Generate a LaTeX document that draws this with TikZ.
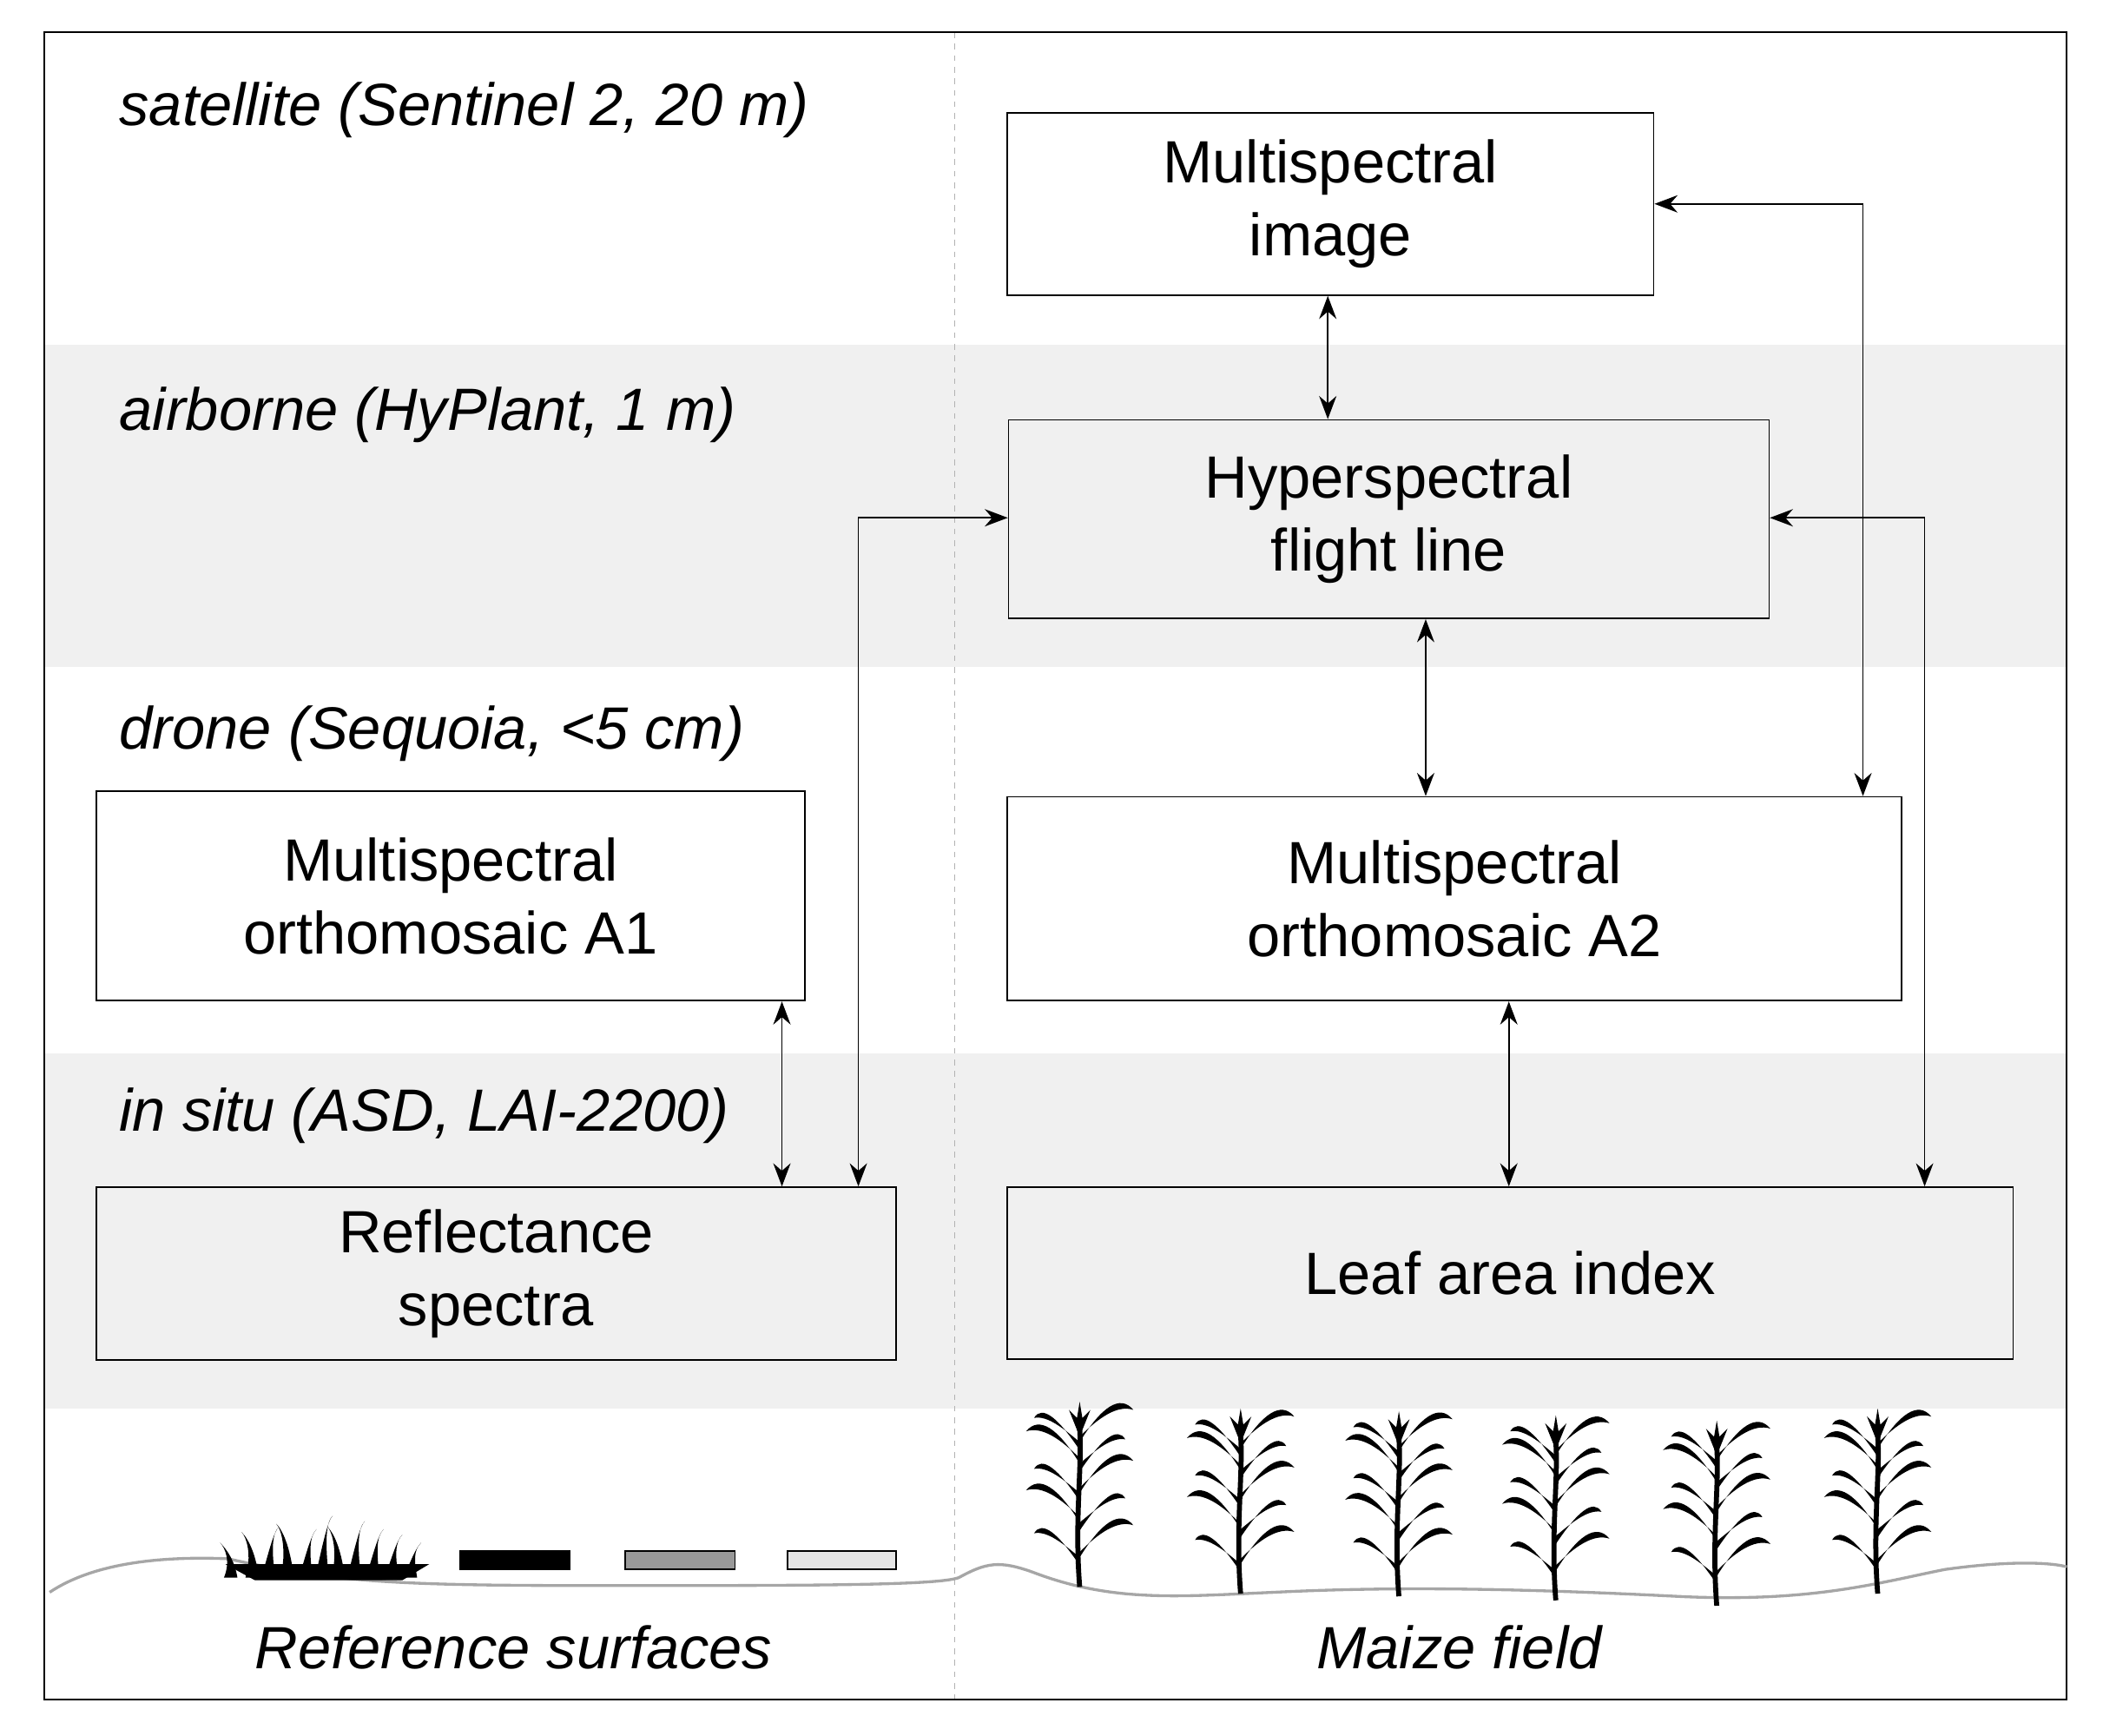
\documentclass[tikz,border=0pt]{standalone}
\usepackage{fontspec}
\setmainfont{Liberation Sans}
\usetikzlibrary{positioning}
\usetikzlibrary{arrows.meta}

% one maize plant, base at the origin of the scope
\newcommand{\maizeplant}[1]{%
  \begin{scope}[shift={(#1)}]
    \draw[line width=2.6pt] (0,0) .. controls (-4,-50) and (2,-90) .. (0,-118);
    \foreach \h/\s in {-22/1,-48/-1,-70/1,-92/-1,-108/1}{
      \fill (0,\h) .. controls (\s*16,\h-26) and (\s*30,\h-36) .. (\s*40,\h-24)
        .. controls (\s*28,\h-28) and (\s*14,\h-18) .. (0,\h-4) -- cycle;
      \fill (0,\h+6) .. controls (-\s*16,\h-18) and (-\s*28,\h-28) .. (-\s*34,\h-18)
        .. controls (-\s*24,\h-20) and (-\s*12,\h-10) .. (0,\h) -- cycle;
    }
    \fill (0,-112) -- (-8,-132) -- (-2,-126) -- (0,-138) -- (2,-126) -- (8,-132) -- cycle;
  \end{scope}}

\begin{document}
\begin{tikzpicture}[x=0.0245cm,y=-0.0245cm,
  box/.style={draw=black,thick,align=center,inner sep=0pt,font=\fontsize{31}{38}\selectfont},
  level/.style={anchor=west,font=\fontsize{31}{38}\selectfont\itshape},
  link/.style={{Stealth[length=12pt,width=9pt]}-{Stealth[length=12pt,width=9pt]},thick}]
  \useasboundingbox (0,0) rectangle (1568,1294);
  % bands
  \fill[black!6] (33,257) rectangle (1541,497);
  \fill[black!6] (33,785) rectangle (1541,1050);
  \draw[black!30,dashed] (712,24) -- (712,1267);
  \draw[thick] (33,24) rectangle (1541,1267);

  % levels
  \node[level] (lsat) at (84,82) {satellite (Sentinel 2, 20 m)};
  \node[level] (lair) at (84,309) {airborne (HyPlant, 1 m)};
  \node[level] (ldrone) at (84,547) {drone (Sequoia, <5 cm)};
  \node[level] (lsitu) at (84,832) {in situ (ASD, LAI-2200)};

  % products
  \node[box,minimum width=482*0.0245cm,minimum height=136*0.0245cm] (image) at (992,152) {Multispectral\\image};
  \node[box,minimum width=567*0.0245cm,minimum height=148*0.0245cm] (hyper) at (1035.5,387) {Hyperspectral\\flight line};
  \node[box,minimum width=528*0.0245cm,minimum height=156*0.0245cm] (orthoA) at (336,668) {Multispectral\\orthomosaic A1};
  \node[box,minimum width=667*0.0245cm,minimum height=152*0.0245cm] (orthoB) at (1084.5,670) {Multispectral\\orthomosaic A2};
  \node[box,minimum width=596*0.0245cm,minimum height=129*0.0245cm] (refl) at (370,949.5) {Reflectance\\spectra};
  \node[box,minimum width=750*0.0245cm,minimum height=128*0.0245cm] (lai) at (1126,949) {Leaf area index};

  \coordinate (c1) at (1389,152);
  \coordinate (c2) at (640,386);
  \coordinate (c3) at (1435,386);
  \draw[link] (image.south -| 990,0) -- (hyper.north -| 990,0);
  \draw[link] (image.east |- c1) -| (orthoB.north -| c1);
  \draw[link] (hyper.west |- c2) -| (refl.north -| c2);
  \draw[link] (hyper.east |- c3) -| (lai.north -| c3);
  \draw[link] (hyper.south -| 1063,0) -- (orthoB.north -| 1063,0);
  \draw[link] (orthoA.south -| 583,0) -- (refl.north -| 583,0);
  \draw[link] (orthoB.south -| 1125,0) -- (lai.north -| 1125,0);

  % ground
  \draw[black!35,line width=1.5pt] (37,1187) .. controls (70,1165) and (120,1160) .. (170,1162)
    .. controls (250,1180) and (300,1182) .. (450,1182) .. controls (600,1182) and (700,1182) .. (715,1176)
    .. controls (735,1165) and (745,1163) .. (770,1172) .. controls (830,1195) and (880,1190) .. (950,1187)
    .. controls (1050,1182) and (1150,1185) .. (1250,1190) .. controls (1350,1195) and (1400,1180) .. (1450,1170)
    .. controls (1500,1163) and (1530,1165) .. (1541,1168);
  % grass tuft
  \foreach \gx/\gh/\gs in {172/12/-1,188/20/-1,200/24/1,214/26/-1,228/22/1,240/32/1,252/24/-1,264/28/1,278/22/1,292/18/1,306/12/1}{
    \fill (\gx-5,1176) .. controls (\gx,1170-\gh/2) and (\gx+\gs*4,1166-\gh) .. (\gx+\gs*8,1162-\gh)
      .. controls (\gx+\gs*2,1168-\gh) and (\gx+3,1170-\gh/2) .. (\gx+5,1176) -- cycle;
  }
  \fill (168,1166) -- (320,1166) -- (300,1178) -- (190,1178) -- cycle;
  % reference panels
  \draw[thick,fill=black] (343,1156) rectangle (425,1170);
  \draw[thick,fill=black!40] (466,1156) rectangle (548,1170);
  \draw[thick,fill=black!10] (587,1156) rectangle (668,1170);
  % maize plants
  \foreach \px/\py in {805/1183,925/1188,1043/1190,1160/1193,1280/1197,1400/1188}{
    \maizeplant{\px,\py}
  }

  \node[font=\fontsize{31}{38}\selectfont\itshape] (refsurf) at (383,1228) {Reference surfaces};
  \node[font=\fontsize{31}{38}\selectfont\itshape] (maize) at (1088,1228) {Maize field};
\end{tikzpicture}
\end{document}
